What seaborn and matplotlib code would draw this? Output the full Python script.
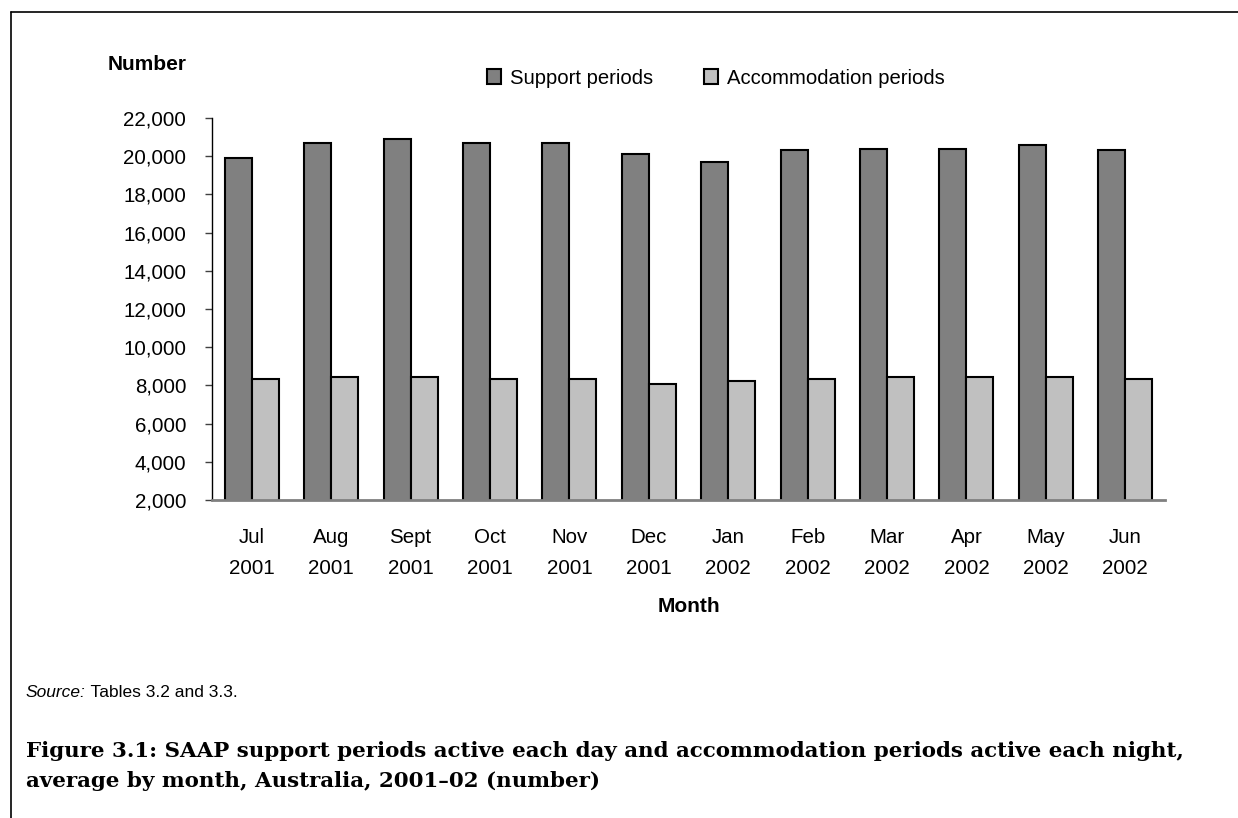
import matplotlib
matplotlib.use("Agg")
import matplotlib.pyplot as plt
from matplotlib.lines import Line2D
from matplotlib.ticker import FuncFormatter
import pandas as pd
import seaborn as sns

months = ["Jul\n2001", "Aug\n2001", "Sept\n2001", "Oct\n2001", "Nov\n2001", "Dec\n2001",
          "Jan\n2002", "Feb\n2002", "Mar\n2002", "Apr\n2002", "May\n2002", "Jun\n2002"]
support = [19900, 20700, 20900, 20700, 20700, 20100, 19700, 20300, 20400, 20400, 20600, 20300]
accommodation = [8350, 8450, 8450, 8350, 8350, 8050, 8250, 8350, 8450, 8450, 8450, 8350]
series_names = ["Support periods", "Accommodation periods"]
y_ticks = list(range(2000, 22001, 2000))

df = pd.concat([
    pd.DataFrame({"month": months, "value": support, "series": series_names[0]}),
    pd.DataFrame({"month": months, "value": accommodation, "series": series_names[1]}),
])

sns.set_theme(style="white")
plt.rcParams["font.family"] = ["Liberation Sans", "DejaVu Sans"]
plt.rcParams["text.color"] = "black"
plt.rcParams["axes.labelcolor"] = "black"

W, H = 1238, 818
fig = plt.figure(figsize=(W / 100, H / 100), dpi=100)
ax = fig.add_axes([212 / W, 1 - 500 / H, 953 / W, 382 / H])

sns.barplot(data=df, x="month", y="value", hue="series", order=months,
            hue_order=series_names, palette=["#808080", "#c0c0c0"],
            width=0.68, edgecolor="black", linewidth=1.5, ax=ax)

ax.set_ylim(2000, 22000)
ax.set_xlim(-0.5, len(months) - 0.5)
ax.set_yticks(y_ticks)
ax.yaxis.set_major_formatter(FuncFormatter(lambda v, _: f"{int(v):,}"))
ax.set_xticks(range(len(months)), labels=months, linespacing=1.8)
ax.tick_params(axis="y", left=True, length=5, width=1, color="#404040",
               labelsize=14.8, pad=13.5, labelcolor="black")
ax.tick_params(axis="x", bottom=False, labelsize=14.8, pad=14, labelcolor="black")

for side in ["top", "right"]:
    ax.spines[side].set_visible(False)
ax.spines["left"].set_color("black")
ax.spines["left"].set_linewidth(1)
ax.spines["bottom"].set_color("#808080")
ax.spines["bottom"].set_linewidth(2)

ax.set_ylabel("")
ax.set_xlabel("Month", fontsize=15, fontweight="bold")
ax.xaxis.set_label_coords(0.5, (500 - 607) / 382)
ax.xaxis.label.set_va("center")

fig.text(108 / W, 1 - 65 / H, "Number", fontsize=15, fontweight="bold", va="center", ha="left")

ax.legend(loc="center", bbox_to_anchor=(716 / W, 1 - 78 / H),
          bbox_transform=fig.transFigure, ncol=2, frameon=False, fontsize=14.6,
          handlelength=0.7, handleheight=0.7, handletextpad=0.45,
          columnspacing=2.5, borderpad=0)

# frame around the figure area
fig.add_artist(Line2D([11 / W, 1], [1 - 12 / H, 1 - 12 / H], color="black", lw=1.2,
                      transform=fig.transFigure))
fig.add_artist(Line2D([11 / W, 11 / W], [0, 1 - 12 / H], color="black", lw=1.2,
                      transform=fig.transFigure))

src = fig.text(26 / W, 1 - 697 / H, "Source:", fontsize=12.5, style="italic", va="baseline")
ax.annotate(" Tables 3.2 and 3.3.", xy=(1, 0), xycoords=src, va="bottom", ha="left",
            fontsize=12.5, annotation_clip=False)

title_lines = ["Figure 3.1: SAAP support periods active each day and accommodation periods active each night,",
               "average by month, Australia, 2001\u201302 (number)"]
for i, line in enumerate(title_lines):
    fig.text(26 / W, 1 - (757 + 30 * i) / H, line, fontsize=15.4, fontweight="bold",
             family=["DejaVu Serif"], va="baseline", ha="left")

fig.savefig("out.png", dpi=100, facecolor="white")
plt.close(fig)
